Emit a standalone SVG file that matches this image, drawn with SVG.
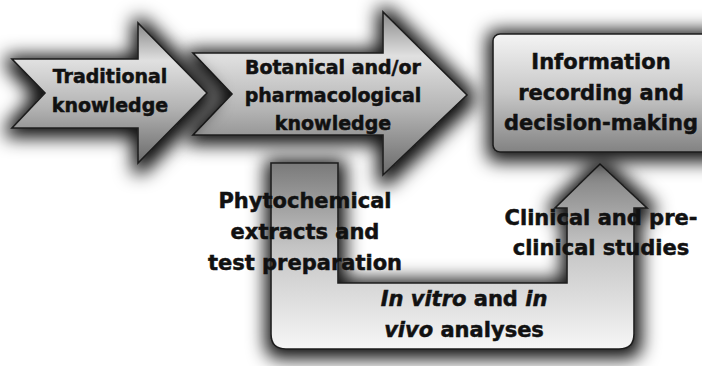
<svg xmlns="http://www.w3.org/2000/svg" width="702" height="366" viewBox="0 0 702 366">
  <defs>
    <!-- soft dark halo shadow shared by all shapes -->
    <filter id="shadow" x="-30%" y="-30%" width="160%" height="160%">
      <feMorphology in="SourceAlpha" operator="dilate" radius="6" result="grow"/>
      <feGaussianBlur in="grow" stdDeviation="9" result="blur"/>
      <feOffset in="blur" dx="1" dy="3" result="off"/>
      <feFlood flood-color="#000" flood-opacity="0.95"/>
      <feComposite in2="off" operator="in" result="shade"/>
      <feMerge>
        <feMergeNode in="shade"/>
        <feMergeNode in="SourceGraphic"/>
      </feMerge>
    </filter>
    <!-- arrow fill: lightest along the shaft top, darker at the head points -->
    <linearGradient id="arrowFill" x1="0" y1="0" x2="0" y2="1">
      <stop offset="0" stop-color="#888"/>
      <stop offset="0.27" stop-color="#e0e0e0"/>
      <stop offset="0.6" stop-color="#b4b4b4"/>
      <stop offset="1" stop-color="#6a6a6a"/>
    </linearGradient>
    <linearGradient id="boxFill" x1="0" y1="0" x2="0" y2="1">
      <stop offset="0" stop-color="#f4f4f4"/>
      <stop offset="0.5" stop-color="#c8c8c8"/>
      <stop offset="1" stop-color="#828282"/>
    </linearGradient>
    <linearGradient id="uFill" x1="0" y1="0" x2="0" y2="1">
      <stop offset="0" stop-color="#7a7a7a"/>
      <stop offset="0.45" stop-color="#c4c4c4"/>
      <stop offset="1" stop-color="#f6f6f6"/>
    </linearGradient>
    <style>
      .shape { stroke: #1e1e1e; stroke-width: 1.6; stroke-linejoin: miter; filter: url(#shadow); }
      .arrow { fill: url(#arrowFill); }
      .box { fill: url(#boxFill); }
      .uarrow { fill: url(#uFill); }
      text { font-family: "DejaVu Sans", "Liberation Sans", sans-serif; font-weight: bold; fill: #111; stroke: #111; stroke-width: 0.5; text-anchor: middle; }
      .small { font-size: 19px; }
      .big { font-size: 21px; }
      .it { font-style: italic; }
    </style>
  </defs>

  <!-- U-shaped process arrow (drawn first, lies at the back) -->
  <g id="analysis-loop">
    <path class="shape uarrow" d="M271,163 L338,163 L338,283 L567,283 L567,208 L555,208 L600,164 L647,208 L634,208 L634,334 Q634,349 619,349 L286,349 Q271,349 271,334 Z"/>
  </g>

  <!-- Botanical / pharmacological arrow -->
  <g id="botanical">
    <polygon class="shape arrow" points="193,53 383,53 383,12 467,95 383,175 383,135 193,135 232,94"/>
  </g>

  <!-- Traditional knowledge arrow -->
  <g id="traditional">
    <polygon class="shape arrow" points="12,59 138,59 138,23 207,93 138,163 138,128 12,128 45,93"/>
  </g>

  <!-- Information box, runs off the right edge -->
  <g id="information">
    <rect class="shape box" x="493" y="34" width="240" height="118" rx="7" ry="7"/>
  </g>

  <!-- labels -->
  <g id="labels">
    <text class="small" x="110" y="83">Traditional</text>
    <text class="small" x="110" y="112">knowledge</text>

    <text class="small" x="333" y="74">Botanical and/or</text>
    <text class="small" x="333" y="102">pharmacological</text>
    <text class="small" x="333" y="130">knowledge</text>

    <text class="big" x="601" y="69">Information</text>
    <text class="big" x="601" y="99.5">recording and</text>
    <text class="big" x="601" y="130">decision-making</text>

    <text class="big" x="305" y="208">Phytochemical</text>
    <text class="big" x="305" y="239">extracts and</text>
    <text class="big" x="305" y="270">test preparation</text>

    <text class="big" x="601" y="225">Clinical and pre-</text>
    <text class="big" x="601" y="255">clinical studies</text>

    <text class="big" x="464" y="306"><tspan class="it">In vitro</tspan> and <tspan class="it">in</tspan></text>
    <text class="big" x="464" y="337"><tspan class="it">vivo</tspan> analyses</text>
  </g>

  <!-- connectors: none separate from the arrow shapes -->
  <g id="connectors"/>
</svg>
